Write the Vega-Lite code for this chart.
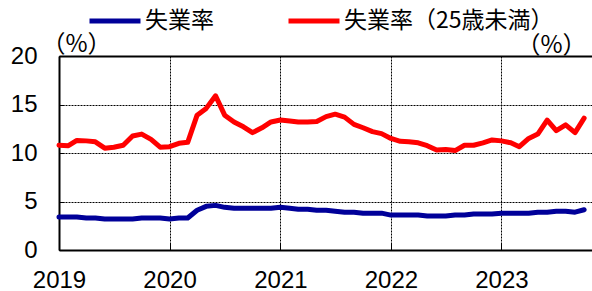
{
  "$schema": "https://vega.github.io/schema/vega-lite/v6.json",
  "autosize": "none",
  "padding": {"left": 59, "top": 56, "right": 0, "bottom": 41},
  "width": 533,
  "height": 194,
  "background": "white",
  "config": {
    "view": {"stroke": null},
    "axis": {"labelFont": "Liberation Sans", "labelFontSize": 24, "labelColor": "black", "titleColor": "black"},
    "legend": {
      "orient": "none", "legendX": 28, "legendY": -63, "direction": "horizontal",
      "symbolType": "stroke", "symbolSize": 2601, "symbolStrokeWidth": 5,
      "labelFont": "Noto Sans CJK JP", "labelFontSize": 23, "labelColor": "black",
      "columnPadding": 64, "labelOffset": 2, "padding": 0, "labelLimit": 1000
    }
  },
  "data": {
    "values": [
      {"month": "2019-01", "失業率": 3.4, "失業率（25歳未満）": 10.8},
      {"month": "2019-02", "失業率": 3.4, "失業率（25歳未満）": 10.75},
      {"month": "2019-03", "失業率": 3.4, "失業率（25歳未満）": 11.3},
      {"month": "2019-04", "失業率": 3.3, "失業率（25歳未満）": 11.25},
      {"month": "2019-05", "失業率": 3.3, "失業率（25歳未満）": 11.15},
      {"month": "2019-06", "失業率": 3.2, "失業率（25歳未満）": 10.5},
      {"month": "2019-07", "失業率": 3.2, "失業率（25歳未満）": 10.6},
      {"month": "2019-08", "失業率": 3.2, "失業率（25歳未満）": 10.8},
      {"month": "2019-09", "失業率": 3.2, "失業率（25歳未満）": 11.75},
      {"month": "2019-10", "失業率": 3.3, "失業率（25歳未満）": 11.95},
      {"month": "2019-11", "失業率": 3.3, "失業率（25歳未満）": 11.4},
      {"month": "2019-12", "失業率": 3.3, "失業率（25歳未満）": 10.6},
      {"month": "2020-01", "失業率": 3.2, "失業率（25歳未満）": 10.65},
      {"month": "2020-02", "失業率": 3.3, "失業率（25歳未満）": 11.0},
      {"month": "2020-03", "失業率": 3.3, "失業率（25歳未満）": 11.1},
      {"month": "2020-04", "失業率": 4.1, "失業率（25歳未満）": 13.9},
      {"month": "2020-05", "失業率": 4.5, "失業率（25歳未満）": 14.6},
      {"month": "2020-06", "失業率": 4.6, "失業率（25歳未満）": 15.9},
      {"month": "2020-07", "失業率": 4.4, "失業率（25歳未満）": 13.9},
      {"month": "2020-08", "失業率": 4.3, "失業率（25歳未満）": 13.2},
      {"month": "2020-09", "失業率": 4.3, "失業率（25歳未満）": 12.7},
      {"month": "2020-10", "失業率": 4.3, "失業率（25歳未満）": 12.1},
      {"month": "2020-11", "失業率": 4.3, "失業率（25歳未満）": 12.6},
      {"month": "2020-12", "失業率": 4.3, "失業率（25歳未満）": 13.2},
      {"month": "2021-01", "失業率": 4.4, "失業率（25歳未満）": 13.4},
      {"month": "2021-02", "失業率": 4.3, "失業率（25歳未満）": 13.3},
      {"month": "2021-03", "失業率": 4.2, "失業率（25歳未満）": 13.2},
      {"month": "2021-04", "失業率": 4.2, "失業率（25歳未満）": 13.2},
      {"month": "2021-05", "失業率": 4.1, "失業率（25歳未満）": 13.25},
      {"month": "2021-06", "失業率": 4.1, "失業率（25歳未満）": 13.75},
      {"month": "2021-07", "失業率": 4.0, "失業率（25歳未満）": 14.0},
      {"month": "2021-08", "失業率": 3.9, "失業率（25歳未満）": 13.7},
      {"month": "2021-09", "失業率": 3.9, "失業率（25歳未満）": 12.95},
      {"month": "2021-10", "失業率": 3.8, "失業率（25歳未満）": 12.6},
      {"month": "2021-11", "失業率": 3.8, "失業率（25歳未満）": 12.2},
      {"month": "2021-12", "失業率": 3.8, "失業率（25歳未満）": 12.0},
      {"month": "2022-01", "失業率": 3.6, "失業率（25歳未満）": 11.5},
      {"month": "2022-02", "失業率": 3.6, "失業率（25歳未満）": 11.2},
      {"month": "2022-03", "失業率": 3.6, "失業率（25歳未満）": 11.15},
      {"month": "2022-04", "失業率": 3.6, "失業率（25歳未満）": 11.05},
      {"month": "2022-05", "失業率": 3.5, "失業率（25歳未満）": 10.75},
      {"month": "2022-06", "失業率": 3.5, "失業率（25歳未満）": 10.3},
      {"month": "2022-07", "失業率": 3.5, "失業率（25歳未満）": 10.35},
      {"month": "2022-08", "失業率": 3.6, "失業率（25歳未満）": 10.25},
      {"month": "2022-09", "失業率": 3.6, "失業率（25歳未満）": 10.8},
      {"month": "2022-10", "失業率": 3.7, "失業率（25歳未満）": 10.8},
      {"month": "2022-11", "失業率": 3.7, "失業率（25歳未満）": 11.05},
      {"month": "2022-12", "失業率": 3.7, "失業率（25歳未満）": 11.35},
      {"month": "2023-01", "失業率": 3.8, "失業率（25歳未満）": 11.25},
      {"month": "2023-02", "失業率": 3.8, "失業率（25歳未満）": 11.05},
      {"month": "2023-03", "失業率": 3.8, "失業率（25歳未満）": 10.65},
      {"month": "2023-04", "失業率": 3.8, "失業率（25歳未満）": 11.5},
      {"month": "2023-05", "失業率": 3.9, "失業率（25歳未満）": 11.95},
      {"month": "2023-06", "失業率": 3.9, "失業率（25歳未満）": 13.4},
      {"month": "2023-07", "失業率": 4.0, "失業率（25歳未満）": 12.3},
      {"month": "2023-08", "失業率": 4.0, "失業率（25歳未満）": 12.9},
      {"month": "2023-09", "失業率": 3.9, "失業率（25歳未満）": 12.1},
      {"month": "2023-10", "失業率": 4.15, "失業率（25歳未満）": 13.6}
    ],
    "format": {"parse": {"month": "date:'%Y-%m'"}}
  },
  "transform": [
    {"fold": ["失業率", "失業率（25歳未満）"], "as": ["series", "value"]}
  ],
  "encoding": {
    "y": {
      "field": "value", "type": "quantitative",
      "scale": {"domain": [0, 20], "nice": false, "zero": true},
      "axis": {
        "values": [0, 5, 10, 15, 20], "orient": "left",
        "domainColor": "black", "domainWidth": 2,
        "tickColor": "black", "tickSize": -5, "tickWidth": 1,
        "labelPadding": 27,
        "grid": true, "gridColor": "black", "gridDash": [2, 1], "gridWidth": 1, "gridOpacity": 1,
        "title": "（%）", "titleAngle": 0, "titleFont": "Noto Sans CJK JP", "titleFontSize": 24, "titleFontWeight": "normal",
        "titleX": 17, "titleY": -12, "titleAlign": "center", "titleBaseline": "middle"
      }
    },
    "color": {
      "field": "series", "type": "nominal",
      "scale": {"domain": ["失業率", "失業率（25歳未満）"], "range": ["#000099", "#FF0000"]},
      "legend": {"title": null}
    }
  },
  "layer": [
    {
      "transform": [{"filter": "datum.series === '失業率'"}],
      "mark": {"type": "line", "strokeWidth": 5, "strokeJoin": "round", "strokeCap": "round"},
      "encoding": {
        "x": {
          "field": "month", "type": "temporal",
          "scale": {"domain": [{"year": 2019, "month": 1, "date": 1}, {"year": 2023, "month": 10, "date": 27}], "nice": false},
          "axis": {
            "orient": "bottom", "tickCount": {"interval": "year", "step": 1}, "format": "%Y",
            "domainColor": "black", "domainWidth": 2,
            "tickColor": "black", "tickSize": -7, "tickWidth": 1,
            "labelPadding": 25, "labelAlign": "center", "labelFlush": false, "labelOverlap": false,
            "grid": true, "gridColor": "black", "gridDash": [2, 1], "gridWidth": 1, "gridOpacity": 1,
            "title": null
          }
        }
      }
    },
    {
      "transform": [{"filter": "datum.series === '失業率（25歳未満）'"}],
      "mark": {"type": "line", "strokeWidth": 5, "strokeJoin": "round", "strokeCap": "round"},
      "encoding": {
        "x": {
          "field": "month", "type": "temporal",
          "axis": {
            "orient": "top", "labels": false, "ticks": false, "grid": false,
            "domainColor": "black", "domainWidth": 2,
            "title": "（%）", "titleFont": "Noto Sans CJK JP", "titleFontSize": 24, "titleFontWeight": "normal",
            "titleX": 492, "titleY": -11, "titleAlign": "center", "titleBaseline": "middle"
          }
        }
      }
    }
  ],
  "resolve": {"axis": {"x": "independent"}}
}
